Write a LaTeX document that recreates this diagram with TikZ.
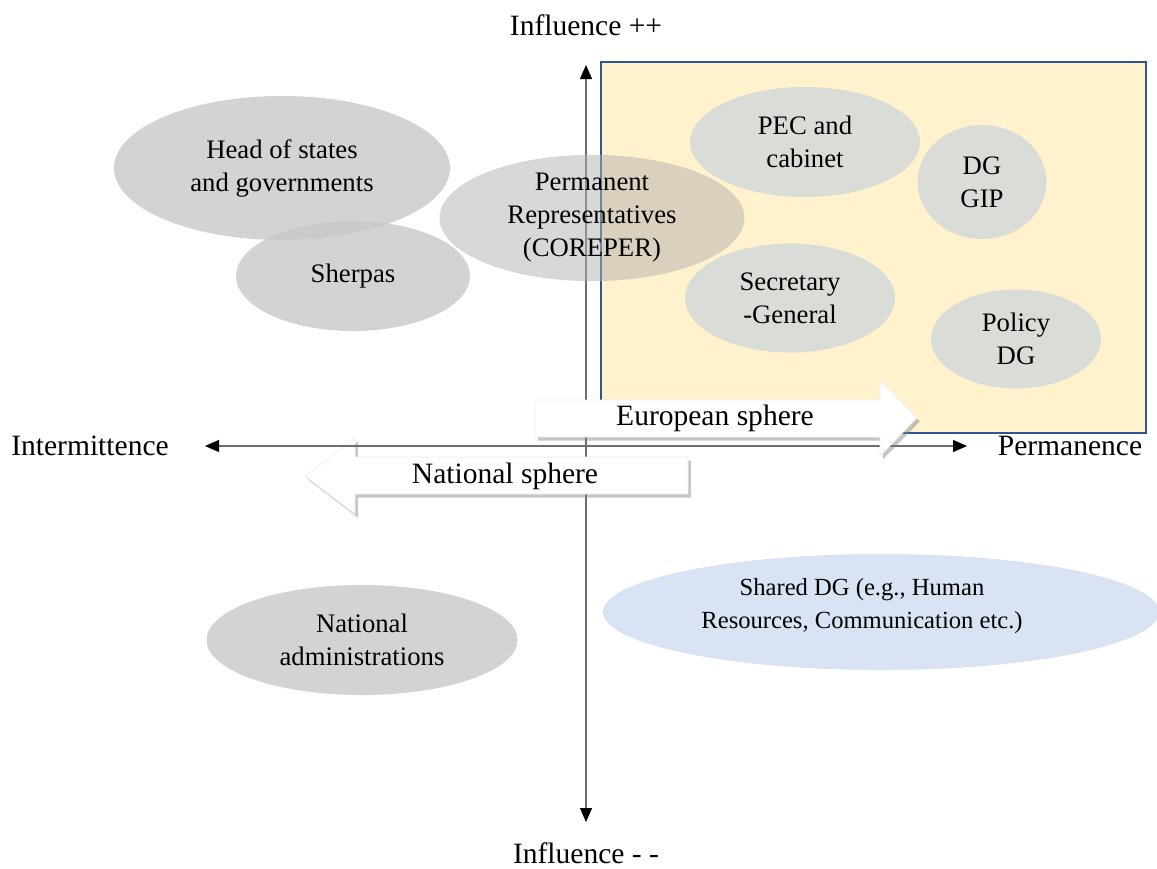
\documentclass[tikz,border=0pt]{standalone}
\usepackage{fontspec}
\setmainfont{Liberation Serif}
\usetikzlibrary{shapes,arrows,arrows.meta,positioning,shadows}
\definecolor{bubblegray}{HTML}{C9C7C7}
\definecolor{corepergray}{HTML}{B4B1B0}
\definecolor{eugray}{HTML}{D9DCD7}
\definecolor{spherebg}{HTML}{FFF2CC}
\definecolor{frameblue}{HTML}{2F5597}
\definecolor{sharedblue}{HTML}{DAE3F3}
\definecolor{axisgray}{HTML}{6E6E6E}

\begin{document}
\begin{tikzpicture}[x=0.025cm, y=-0.025cm, align=center, font=\fontsize{21}{23.5}\selectfont]
    \tikzset{
        blob/.style     =   { ellipse
                            , fill=bubblegray
                            , fill opacity=0.8
                            , text opacity=1
                            , inner sep=0pt
                            , font=\fontsize{19}{23.5}\selectfont
        }
        , eublob/.style =   { blob
                            , fill=eugray
                            , fill opacity=1
        }
        , wh/.style 2 args = { minimum width=#1*0.025cm
                            , minimum height=#2*0.025cm
        }
        , axis/.style   =   { draw=axisgray
                            , line width=0.8pt
                            , {Triangle[length=0.35cm, width=0.3cm, color=black]}-{Triangle[length=0.35cm, width=0.3cm, color=black]}
        }
        , shaft/.style  =   { fill=white
                            , draw=gray!15
                            , drop shadow={shadow xshift=2pt, shadow yshift=-2.5pt, opacity=0.45}
        }
    }
    \useasboundingbox (0,0) rectangle (1157,868);

    % european box
    \draw[frameblue, line width=1.1pt, fill=spherebg] (601,62) rectangle (1146,433);

    % axes
    \coordinate (top)    at (586,65);
    \coordinate (bottom) at (586,822);
    \coordinate (left)   at (205,446);
    \coordinate (right)  at (967,446);
    \draw[axis] (bottom) -- (top);

    \node(infhigh)[anchor=base] at (586,35)  {Influence ++};
    \node(inflow)[anchor=base]  at (586,863) {Influence - -};
    \node(intermit)[anchor=base] at (90,455) {Intermittence};
    \node(perman)[anchor=base]  at (1070,455) {Permanence};

    % actors
    \node(heads)[blob, wh={336}{144}]   at (282,168) {Head of states\\and governments};
    \node(sherpas)[blob, wh={234}{110}] at (353,276) {Sherpas};
    \node(coreper)[blob, wh={305}{114}, fill=corepergray, fill opacity=0.5] at (592,218) {Permanent\\Representatives\\(COREPER)};
    \node(pec)[eublob, wh={230}{110}]    at (805,142) {PEC and\\cabinet};
    \node(gip)[eublob, wh={129}{114}]    at (982,182) {DG\\GIP};
    \node(secgen)[eublob, wh={210}{109}] at (790,298) {Secretary\\-General};
    \node(policy)[eublob, wh={170}{99}]  at (1016,339) {Policy\\DG};
    \node(natadm)[blob, wh={311}{110}]  at (362,640) {National\\administrations};
    \node(shared)[blob, wh={556}{116}, fill=sharedblue, fill opacity=1] at (881,612) {};
    \node(sharedtxt)[font=\fontsize{17.5}{23.5}\selectfont] at (862,606) {Shared DG (e.g., Human\\Resources, Communication etc.)};

    % spheres
    \fill[shaft] (688,457) -- (355,457) -- (355,438) -- (305,476) -- (355,514) -- (355,494) -- (688,494) -- cycle;
    \node(national) at (505,476) {National sphere};
    \draw[axis] (left) -- (right);
    \fill[shaft] (535,400) -- (880,400) -- (880,380) -- (917,418) -- (880,456) -- (880,437) -- (535,437) -- cycle;
    \node(european) at (715,418) {European sphere};
\end{tikzpicture}
\end{document}
